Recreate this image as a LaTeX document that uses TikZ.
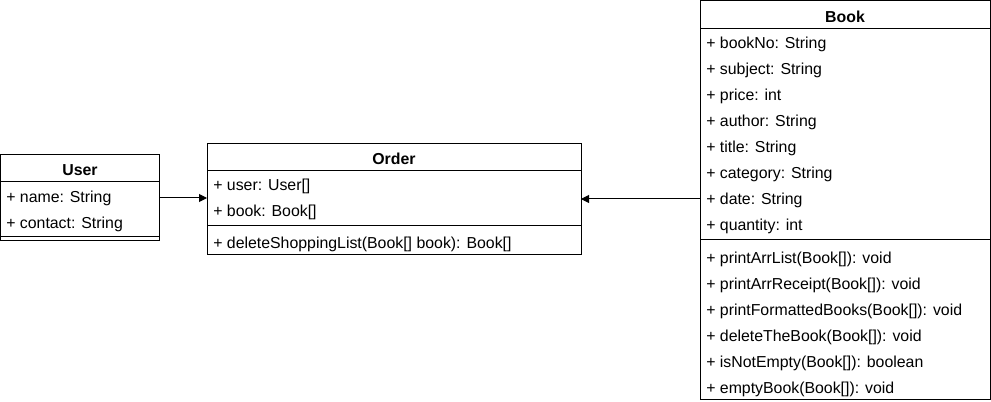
\documentclass[tikz,border=0pt]{standalone}
\usepackage{fontspec}
\setmainfont{Liberation Sans}
\usetikzlibrary{arrows.meta}
\begin{document}
\begin{tikzpicture}[x=0.75pt,y=-0.75pt,
  box/.style={draw=black,line width=0.75pt,fill=white,anchor=north west,inner sep=0pt,outer sep=0pt},
  sep/.style={draw=black,line width=0.75pt},
  attr/.style={anchor=west,inner sep=0pt,font=\fontsize{11.9pt}{13pt}\selectfont},
  title/.style={inner sep=0pt,font=\fontsize{11.9pt}{13pt}\selectfont\bfseries},
  conn/.style={draw=black,line width=0.75pt,-{Triangle[length=6pt,width=6pt]}}]
\useasboundingbox (0,0) rectangle (991,402);
% User
\node[box,minimum width=119.25pt,minimum height=64.5pt] (user) at (0.5,155) {};
\node[title] (userT) at (80,170) {User};
\draw[sep] (0.5,182) -- (160,182);
\node[attr] (u1) at (6,198) {+ name: String};
\node[attr] (u2) at (6,224) {+ contact: String};
\draw[sep] (0.5,237) -- (160,237);
% Order
\node[box,minimum width=280.5pt,minimum height=83.25pt] (order) at (207,144) {};
\node[title] (orderT) at (394,159) {Order};
\draw[sep] (207,170.5) -- (581,170.5);
\node[attr] (o1) at (213,186) {+ user: User[]};
\node[attr] (o2) at (213,212) {+ book: Book[]};
\draw[sep] (207,226) -- (581,226);
\node[attr] (o3) at (213,244) {+ deleteShoppingList(Book[] book): Book[]};
% Book
\node[box,minimum width=217.5pt,minimum height=298.5pt] (book) at (700,1) {};
\node[title] (bookT) at (845,17) {Book};
\draw[sep] (700,29) -- (990,29);
\node[attr] (b1) at (706,44) {+ bookNo: String};
\node[attr] (b2) at (706,70) {+ subject: String};
\node[attr] (b3) at (706,96) {+ price: int};
\node[attr] (b4) at (706,122) {+ author: String};
\node[attr] (b5) at (706,148) {+ title: String};
\node[attr] (b6) at (706,174) {+ category: String};
\node[attr] (b7) at (706,200) {+ date: String};
\node[attr] (b8) at (706,226) {+ quantity: int};
\draw[sep] (700,240) -- (990,240);
\node[attr] (m1) at (706,259) {+ printArrList(Book[]): void};
\node[attr] (m2) at (706,285) {+ printArrReceipt(Book[]): void};
\node[attr] (m3) at (706,311) {+ printFormattedBooks(Book[]): void};
\node[attr] (m4) at (706,337) {+ deleteTheBook(Book[]): void};
\node[attr] (m5) at (706,363) {+ isNotEmpty(Book[]): boolean};
\node[attr] (m6) at (706,389) {+ emptyBook(Book[]): void};
% connectors
\draw[conn] (user.east) -- (user.east -| order.west);
\draw[conn] (book.west |- 0,199) -- (order.east |- 0,199);
\end{tikzpicture}
\end{document}
